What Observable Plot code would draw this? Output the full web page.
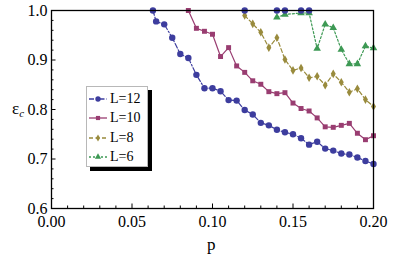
<!DOCTYPE html>
<html><head><meta charset="utf-8">
<script src="https://cdn.jsdelivr.net/npm/d3@7"></script>
<script src="https://cdn.jsdelivr.net/npm/@observablehq/plot@0.6"></script>
<style>
body{margin:0;background:#fff;}
#wrap{position:relative;width:415px;height:258px;font-family:"Liberation Serif","Times New Roman",serif;color:#000;}
#wrap svg text{font-family:"Liberation Serif","Times New Roman",serif;}
#legend{position:absolute;left:86px;top:86px;width:62px;height:81px;background:#fff;border:1px solid #b8b8b8;box-shadow:4px 4px 0 #000;box-sizing:border-box;padding-top:2px;}
.row{display:flex;align-items:center;height:19.5px;}
.row svg{margin-left:1px;margin-right:2px;}
.row span{font-size:14px;line-height:14px;}
#ylab{position:absolute;left:12px;top:99px;font-size:17px;}
#ylab sub{font-size:11px;font-style:italic;vertical-align:-3px;}
#xlab{position:absolute;left:207px;top:235px;font-size:17px;}
</style></head>
<body>
<div id="wrap"></div>
<script>
// ---- data ----
const seriesNames = ["L=12", "L=10", "L=8", "L=6"];
const seriesColors = ["#3d3d9e", "#993d71", "#998b3d", "#3d9954"];

const pL12 = [0.063, 0.065, 0.07, 0.075, 0.08, 0.085, 0.09, 0.095, 0.1, 0.105, 0.11, 0.115, 0.12, 0.125, 0.13, 0.135, 0.14, 0.145, 0.15, 0.155, 0.16, 0.165, 0.17, 0.175, 0.18, 0.185, 0.19, 0.195, 0.2];
const eL12 = [1.0, 0.978, 0.972, 0.945, 0.912, 0.904, 0.870, 0.843, 0.843, 0.837, 0.819, 0.818, 0.799, 0.790, 0.773, 0.768, 0.759, 0.754, 0.750, 0.742, 0.729, 0.735, 0.721, 0.717, 0.711, 0.709, 0.703, 0.696, 0.690];

const pL10 = [0.085, 0.09, 0.095, 0.1, 0.105, 0.11, 0.115, 0.12, 0.125, 0.13, 0.135, 0.14, 0.145, 0.15, 0.155, 0.16, 0.165, 0.17, 0.175, 0.18, 0.185, 0.19, 0.195, 0.2];
const eL10 = [1.0, 0.964, 0.958, 0.952, 0.907, 0.925, 0.888, 0.875, 0.858, 0.851, 0.836, 0.832, 0.834, 0.813, 0.802, 0.797, 0.783, 0.765, 0.764, 0.768, 0.772, 0.752, 0.739, 0.747];

const pL8 = [0.12, 0.125, 0.13, 0.135, 0.14, 0.145, 0.15, 0.155, 0.16, 0.165, 0.17, 0.175, 0.18, 0.185, 0.19, 0.195, 0.2];
const eL8 = [0.990, 0.973, 0.956, 0.925, 0.945, 0.901, 0.879, 0.884, 0.864, 0.867, 0.849, 0.872, 0.855, 0.835, 0.842, 0.820, 0.806];

const pL6 = [0.14, 0.145, 0.155, 0.16, 0.165, 0.17, 0.175, 0.18, 0.185, 0.19, 0.195, 0.2];
const eL6 = [0.986, 0.992, 0.995, 0.995, 0.923, 0.972, 0.965, 0.921, 0.892, 0.892, 0.928, 0.924];

// markers sitting on the top edge (eps_c = 1)
const pTop = [0.12, 0.14, 0.145, 0.155, 0.16];
const eTop = [1.0, 1.0, 1.0, 1.0, 1.0];

const xMajor = [0, 0.05, 0.1, 0.15, 0.2];
const xMinor = [0.01, 0.02, 0.03, 0.04, 0.06, 0.07, 0.08, 0.09, 0.11, 0.12, 0.13, 0.14, 0.16, 0.17, 0.18, 0.19];
const yMajor = [0.6, 0.7, 0.8, 0.9, 1.0];
const yMinor = [0.62, 0.64, 0.66, 0.68, 0.72, 0.74, 0.76, 0.78, 0.82, 0.84, 0.86, 0.88, 0.92, 0.94, 0.96, 0.98];

// ---- build ----
const zipS = (ps, es) => ps.map((p, i) => ({p, e: es[i]}));
const sets = [zipS(pL12, eL12), zipS(pL10, eL10), zipS(pL8, eL8), zipS(pL6, eL6)];
const dashes = ["5,2,1.5,2", null, "4,2.5", "2,2"];
const symbols = ["circle", "square", "diamond", "triangle"];
const radii = [3.2, 2.8, 2.6, 2.8];

const marks = [];
sets.forEach((d, k) => {
  marks.push(Plot.line(d, {x: "p", y: "e", stroke: seriesColors[k], strokeWidth: 1.2, strokeDasharray: dashes[k], clip: true}));
});
sets.forEach((d, k) => {
  marks.push(Plot.dot(d, {x: "p", y: "e", symbol: symbols[k], r: radii[k], fill: seriesColors[k], stroke: "none"}));
});
marks.push(Plot.dot(zipS(pTop, eTop), {x: "p", y: "e", symbol: "circle", r: 3.2, fill: seriesColors[0]}));

marks.push(Plot.frame({stroke: "#000", strokeWidth: 1.3}));
marks.push(Plot.axisX(xMajor, {tickSize: 0, tickPadding: 7, tickFormat: d3.format(".2f"), label: null}));
marks.push(Plot.axisX(xMajor, {tickSize: -4.5, tickFormat: () => "", strokeWidth: 1, label: null}));
marks.push(Plot.axisX(xMinor, {tickSize: -2.5, tickFormat: () => "", strokeWidth: 1, label: null}));
marks.push(Plot.axisY(yMajor, {tickSize: 0, tickPadding: 4, tickFormat: d3.format(".1f"), label: null}));
marks.push(Plot.axisY(yMajor, {tickSize: -4.5, tickFormat: () => "", strokeWidth: 1, label: null}));
marks.push(Plot.axisY(yMinor, {tickSize: -2.5, tickFormat: () => "", strokeWidth: 1, label: null}));

const chart = Plot.plot({
  width: 415, height: 258,
  marginLeft: 51, marginRight: 42, marginTop: 10, marginBottom: 50,
  x: {domain: [0, 0.2], axis: null},
  y: {domain: [0.6, 1.0], axis: null},
  style: {fontFamily: "'Liberation Serif', 'Times New Roman', serif", fontSize: "16px", background: "#fff", color: "#000"},
  marks
});
const wrap = document.getElementById("wrap");
wrap.appendChild(chart);

// axis labels
const yl = document.createElement("div"); yl.id = "ylab"; yl.innerHTML = "ε<sub>c</sub>"; wrap.appendChild(yl);
const xl = document.createElement("div"); xl.id = "xlab"; xl.textContent = "p"; wrap.appendChild(xl);

// legend
const leg = document.createElement("div"); leg.id = "legend"; wrap.appendChild(leg);
const symMap = {circle: d3.symbolCircle, square: d3.symbolSquare, diamond: d3.symbolDiamond, triangle: d3.symbolTriangle};
seriesNames.forEach((name, k) => {
  const row = document.createElement("div"); row.className = "row";
  const svg = d3.create("svg").attr("width", 20).attr("height", 12);
  svg.append("line").attr("x1", 1).attr("x2", 19).attr("y1", 6).attr("y2", 6)
    .attr("stroke", seriesColors[k]).attr("stroke-width", 1.3).attr("stroke-dasharray", dashes[k]);
  svg.append("path").attr("d", d3.symbol(symMap[symbols[k]], Math.PI * radii[k] * radii[k] * 0.7)())
    .attr("transform", "translate(10,6)").attr("fill", seriesColors[k]);
  row.appendChild(svg.node());
  const s = document.createElement("span"); s.textContent = name; row.appendChild(s);
  leg.appendChild(row);
});
</script>
</body></html>
